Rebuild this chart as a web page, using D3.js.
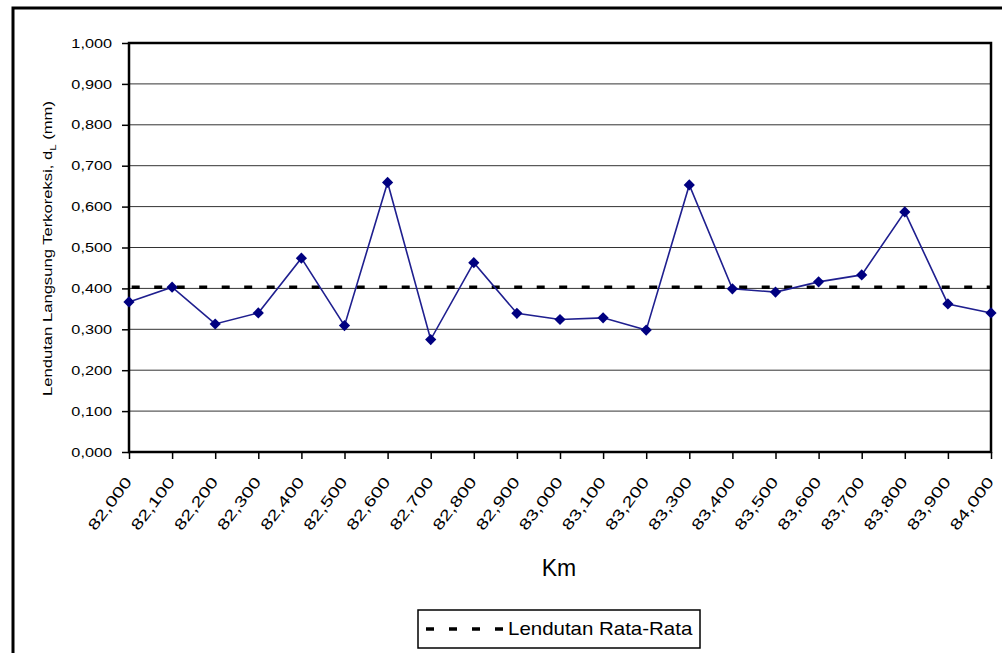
<!DOCTYPE html>
<html>
<head>
<meta charset="utf-8">
<script src="https://cdn.jsdelivr.net/npm/d3@7"></script>
<style>
  body { margin: 0; background: #fff; }
  svg { display: block; font-family: "Liberation Sans", Arial, sans-serif; }
</style>
</head>
<body>
<div id="container"></div>
<script>
// data
const kmLabels = ["82,000", "82,100", "82,200", "82,300", "82,400", "82,500", "82,600",
    "82,700", "82,800", "82,900", "83,000", "83,100", "83,200", "83,300", "83,400",
    "83,500", "83,600", "83,700", "83,800", "83,900", "84,000"];
const deflection = [0.367, 0.403, 0.313, 0.340, 0.474, 0.309, 0.659, 0.275, 0.463, 0.339,
    0.324, 0.328, 0.298, 0.653, 0.399, 0.391, 0.416, 0.433, 0.587, 0.362, 0.340];
const averageValue = 0.403;
const yTicks = [0, 0.1, 0.2, 0.3, 0.4, 0.5, 0.6, 0.7, 0.8, 0.9, 1.0];

const W = 1002, H = 653;
const margin = { top: 43, left: 129, right: 1002 - 991, bottom: 653 - 452 };
const width = W - margin.left - margin.right;
const height = H - margin.top - margin.bottom;

const svg = d3.select("#container").append("svg")
    .attr("width", W)
    .attr("height", H);

// outer frame (cut off on the right and bottom)
svg.append("rect")
    .attr("x", 13).attr("y", 8)
    .attr("width", 1010).attr("height", 700)
    .attr("fill", "none")
    .attr("stroke", "#000")
    .attr("stroke-width", 3);

const g = svg.append("g")
    .attr("transform", `translate(${margin.left},${margin.top})`);

const x = d3.scalePoint()
    .domain(kmLabels)
    .range([0, width]);

const y = d3.scaleLinear()
    .domain([0, 1])
    .range([height, 0]);

const fmt = v => d3.format(".3f")(v).replace(".", ",");

// gridlines
g.append("g")
    .selectAll("line")
    .data(yTicks.slice(1, -1))
  .join("line")
    .attr("x1", 0).attr("x2", width)
    .attr("y1", d => y(d)).attr("y2", d => y(d))
    .attr("stroke", "#333")
    .attr("stroke-width", 1);

// y axis
const yAxis = g.append("g")
    .call(d3.axisLeft(y).tickValues(yTicks).tickFormat(fmt).tickSize(7));
yAxis.select(".domain").remove();
yAxis.selectAll(".tick line").attr("stroke", "#000").attr("stroke-width", 1.5);
yAxis.selectAll(".tick text")
    .style("font-size", "13px")
    .attr("fill", "#000")
    .attr("x", 0)
    .attr("transform", "translate(-17,0) scale(1.25,1)");

// x axis
const xAxis = g.append("g")
    .attr("transform", `translate(0,${height})`)
    .call(d3.axisBottom(x).tickSize(7).tickPadding(0));
xAxis.select(".domain").remove();
xAxis.selectAll(".tick line").attr("stroke", "#000").attr("stroke-width", 1.5);
xAxis.selectAll(".tick text")
    .style("font-size", "15px")
    .attr("fill", "#000")
    .attr("text-anchor", "end")
    .attr("y", 0)
    .attr("dy", 0)
    .attr("transform", "translate(3,30) rotate(-53) scale(1.35,1)");

// plot frame
g.append("rect")
    .attr("x", 0).attr("y", 0)
    .attr("width", width).attr("height", height)
    .attr("fill", "none")
    .attr("stroke", "#000")
    .attr("stroke-width", 2.5);

// average line
g.append("line")
    .attr("x1", 0).attr("x2", width)
    .attr("y1", y(averageValue)).attr("y2", y(averageValue))
    .attr("stroke", "#000")
    .attr("stroke-width", 3.5)
    .attr("stroke-dasharray", "8,14.5")
    .attr("stroke-dashoffset", -2.7);

// series line
const line = d3.line()
    .x((d, i) => x(kmLabels[i]))
    .y(d => y(d));

g.append("path")
    .datum(deflection)
    .attr("fill", "none")
    .attr("stroke", "#1f1f8f")
    .attr("stroke-width", 1.6)
    .attr("d", line);

g.selectAll(".marker")
    .data(deflection)
  .join("path")
    .attr("class", "marker")
    .attr("d", d3.symbol().type(d3.symbolDiamond2).size(80))
    .attr("transform", (d, i) => `translate(${x(kmLabels[i])},${y(d)})`)
    .attr("fill", "#000080");

// axis titles
const yTitle = svg.append("text")
    .attr("transform", `translate(52,${margin.top + height / 2 + 1}) rotate(-90) scale(1.33,1)`)
    .attr("text-anchor", "middle")
    .style("font-size", "12.5px")
    .attr("fill", "#000");
yTitle.append("tspan").text("Lendutan Langsung Terkoreksi, d");
yTitle.append("tspan").attr("dy", 4).style("font-size", "8.5px").text("L");
yTitle.append("tspan").attr("dy", -4).text(" (mm)");

svg.append("text")
    .attr("x", 559).attr("y", 576)
    .attr("text-anchor", "middle")
    .style("font-size", "23px")
    .attr("fill", "#000")
    .text("Km");

// legend
const legend = svg.append("g").attr("transform", "translate(418,610)");
legend.append("rect")
    .attr("width", 282).attr("height", 38)
    .attr("fill", "#fff")
    .attr("stroke", "#000")
    .attr("stroke-width", 1.5);
legend.append("line")
    .attr("x1", 8).attr("x2", 86)
    .attr("y1", 19).attr("y2", 19)
    .attr("stroke", "#000")
    .attr("stroke-width", 3.5)
    .attr("stroke-dasharray", "8,15");
legend.append("text")
    .attr("transform", "translate(90,25) scale(1.17,1)")
    .style("font-size", "17.5px")
    .attr("fill", "#000")
    .text("Lendutan Rata-Rata");
</script>
</body>
</html>
